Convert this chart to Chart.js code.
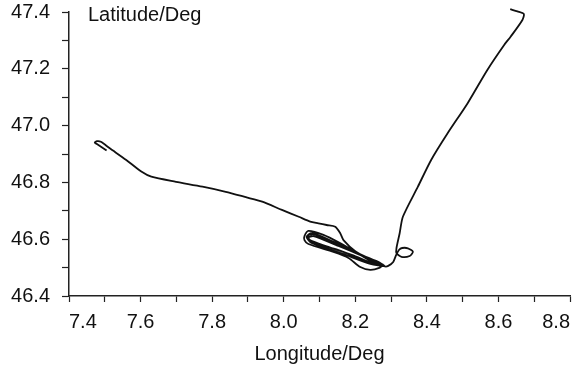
<!DOCTYPE html>
<html>
<head>
<meta charset="utf-8">
<script src="https://cdn.jsdelivr.net/npm/chart.js@4"></script>
<style>
  body { margin: 0; background: #fff; }
  #wrap { position: relative; width: 578px; height: 366px; }
  #ylabel {
    position: absolute; left: 88px; top: 3px;
    font: 20px "Liberation Sans", Arial, sans-serif; color: #111; line-height: 22px;
  }
</style>
</head>
<body>
<div id="wrap">
  <canvas id="track" width="578" height="366"></canvas>
  <div id="ylabel">Latitude/Deg</div>
</div>
<script>
// Flight track (degrees)
// west leg: from the hook near 7.47E towards the loops
const westLon = [7.505, 7.478, 7.472, 7.478, 7.489, 7.514, 7.560, 7.602, 7.630, 7.699, 7.773, 7.838, 7.894, 7.940, 7.995, 8.042, 8.074, 8.097, 8.120, 8.144, 8.158, 8.167];
const westLat = [46.912, 46.935, 46.940, 46.945, 46.943, 46.920, 46.879, 46.838, 46.820, 46.802, 46.785, 46.767, 46.748, 46.732, 46.703, 46.679, 46.662, 46.656, 46.650, 46.644, 46.621, 46.597];

// racetrack loops around 8.1E / 46.55N
const loopLon = [8.200, 8.250, 8.275, 8.267, 8.242, 8.214, 8.181, 8.139, 8.069, 8.058, 8.058, 8.069, 8.111, 8.156, 8.200, 8.253, 8.278, 8.264, 8.208, 8.153, 8.083, 8.067, 8.075, 8.153, 8.222, 8.272, 8.258, 8.181, 8.103, 8.078, 8.064, 8.078, 8.175, 8.242, 8.281,
                 8.262, 8.200, 8.130, 8.085, 8.070, 8.072, 8.120, 8.190, 8.250, 8.283, 8.292, 8.306, 8.314, 8.322];
const loopLat = [46.558, 46.523, 46.509, 46.499, 46.492, 46.502, 46.534, 46.555, 46.583, 46.597, 46.611, 46.629, 46.615, 46.587, 46.555, 46.516, 46.509, 46.520, 46.548, 46.576, 46.611, 46.604, 46.590, 46.562, 46.527, 46.506, 46.520, 46.566, 46.611, 46.622, 46.608, 46.587, 46.544, 46.513, 46.506,
                 46.517, 46.552, 46.590, 46.617, 46.615, 46.598, 46.575, 46.545, 46.515, 46.504, 46.506, 46.520, 46.544, 46.562];

// small loop, then the long leg to the north-east
const northLon = [8.331, 8.347, 8.361, 8.352, 8.329, 8.315, 8.315, 8.324, 8.333, 8.375, 8.412, 8.458, 8.514, 8.569, 8.616, 8.634, 8.667, 8.671, 8.653, 8.633];
const northLat = [46.569, 46.568, 46.556, 46.541, 46.538, 46.551, 46.568, 46.621, 46.679, 46.785, 46.879, 46.973, 47.079, 47.196, 47.284, 47.313, 47.372, 47.393, 47.402, 47.410];

const xTicks = ['7.4', '7.6', '7.8', '8.0', '8.2', '8.4', '8.6', '8.8'];
const yTicks = ['46.4', '46.6', '46.8', '47.0', '47.2', '47.4'];

const lon = [...westLon, ...loopLon, ...northLon];
const lat = [...westLat, ...loopLat, ...northLat];
const points = lon.map((x, i) => ({ x, y: lat[i] }));

const font = { family: '"Liberation Sans", Arial, sans-serif', size: 20 };
const axisColor = '#222';

// only label the major ticks listed above
function majorLabel(list) {
  return v => {
    const s = v.toFixed(1);
    return list.includes(s) ? s : '';
  };
}

new Chart(document.getElementById('track'), {
  type: 'scatter',
  data: {
    datasets: [{
      data: points,
      showLine: true,
      borderColor: '#111',
      borderWidth: 1.8,
      pointRadius: 0,
      tension: 0.25,
      clip: false
    }]
  },
  options: {
    responsive: false,
    animation: false,
    layout: { padding: { left: 10, right: 1, top: 0, bottom: 0 } },
    plugins: { legend: { display: false }, tooltip: { enabled: false } },
    scales: {
      x: {
        type: 'linear',
        min: 7.4, max: 8.8,
        border: { color: axisColor, width: 1.5 },
        grid: { drawOnChartArea: false, tickLength: 6, color: axisColor, tickWidth: 1.2 },
        ticks: {
          stepSize: 0.1, autoSkip: false, maxRotation: 0, padding: 8, align: 'inner',
          color: '#111', font, callback: majorLabel(xTicks)
        },
        title: { display: true, text: 'Longitude/Deg', color: '#111', font, padding: { top: 0, bottom: 0 } }
      },
      y: {
        type: 'linear',
        min: 46.4, max: 47.4,
        border: { color: axisColor, width: 1.5 },
        grid: { drawOnChartArea: false, tickLength: 7, color: axisColor, tickWidth: 1.2 },
        ticks: {
          stepSize: 0.1, autoSkip: false, padding: 12,
          color: '#111', font, callback: majorLabel(yTicks)
        },
        afterFit: s => { s.width = 59; s.paddingTop = 12; s.paddingBottom = 0; }
      }
    }
  }
});
</script>
</body>
</html>
